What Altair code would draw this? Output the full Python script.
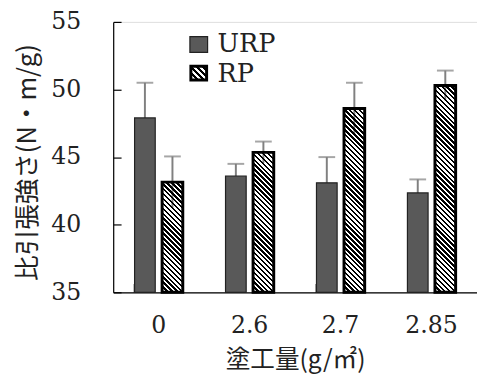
import altair as alt
import pandas as pd

categories = ["0", "2.6", "2.7", "2.85"]
series = ["URP", "RP"]
urp_values = [47.9, 43.6, 43.1, 42.35]
urp_errors = [2.6, 0.9, 1.9, 1.0]
rp_values = [43.15, 45.35, 48.6, 50.3]
rp_errors = [1.9, 0.8, 1.9, 1.1]
y_ticks = [35, 40, 45, 50, 55]

W, H = 370, 275
Y0, Y1 = 35, 55
SERIF = "DejaVu Serif"
CJK = "Noto Sans CJK JP"

rows = []
for c, v, e in zip(categories, urp_values, urp_errors):
    rows.append({"cat": c, "series": "URP", "value": v, "lo": v - e, "hi": v + e})
for c, v, e in zip(categories, rp_values, rp_errors):
    rows.append({"cat": c, "series": "RP", "value": v, "lo": v - e, "hi": v + e})
df = pd.DataFrame(rows)

x_scale = alt.Scale(domain=categories, paddingInner=0.47, paddingOuter=0.235)
xo_scale = alt.Scale(domain=series, paddingInner=0.25, paddingOuter=0)
y_scale = alt.Scale(domain=[Y0, Y1], nice=False, zero=False)

step = W / 4
bar_w = step * (1 - 0.47) * (1 - 0.25) / (2 - 0.25)


def hatch(w, h, period=5.0, duty=0.5):
    s = (w + h) / (w * w + h * h)
    total = w + h
    stops = []
    k = 0.0
    clear = "rgba(255,255,255,0)"
    while k < total:
        a = k / total
        b = min((k + period * duty) / total, 1)
        c = min((k + period) / total, 1)
        stops += [alt.GradientStop(offset=a, color="black"),
                  alt.GradientStop(offset=b, color="black"),
                  alt.GradientStop(offset=b, color=clear),
                  alt.GradientStop(offset=c, color=clear)]
        k += period
    return alt.Gradient(gradient="linear", stops=stops,
                        x1=0, y1=1, x2=s * w, y2=1 - s * h)


base = alt.Chart(df)
X = alt.X("cat:N", scale=x_scale, sort=categories,
          axis=alt.Axis(orient="bottom", title="塗工量(g/㎡)", ticks=False, tickSize=0,
                        labelPadding=34, labelBaseline="middle", labelAngle=0,
                        labelFont=SERIF, labelFontSize=24, labelColor="#222",
                        titleFont=CJK, titleFontSize=25, titleFontWeight="normal",
                        titleColor="#222", titleY=68, titleBaseline="middle",
                        domainColor="black", domainWidth=1.2))
XO = alt.XOffset("series:N", scale=xo_scale, sort=series)
Y = alt.Y("value:Q", scale=y_scale,
          axis=alt.Axis(orient="left", values=y_ticks, ticks=False, tickSize=0,
                        labelPadding=33, labelFont=SERIF, labelFontSize=24,
                        labelColor="#222", grid=False,
                        title="比引張強さ(N・m/g)", titleFont=CJK, titleFontSize=26,
                        titleFontWeight="normal", titleColor="#222",
                        titleX=-87, titleY=H / 2 + 5, titleAngle=-90,
                        titleAlign="center", titleBaseline="middle",
                        domainColor="black", domainWidth=1.2))

err = base.mark_rule(color="#808080", strokeWidth=2).encode(
    x=alt.X("cat:N", scale=x_scale, sort=categories, axis=None), xOffset=XO,
    y=alt.Y("lo:Q", scale=y_scale, axis=None), y2="hi:Q")
cap = base.mark_tick(color="#808080", thickness=2, size=17, orient="horizontal").encode(
    x=alt.X("cat:N", scale=x_scale, sort=categories, axis=None), xOffset=XO,
    y=alt.Y("hi:Q", scale=y_scale, axis=None))

urp = base.transform_filter(alt.datum.series == "URP").mark_bar(
    fill="#595959", stroke="#222", strokeWidth=1.2).encode(x=X, xOffset=XO, y=Y, y2=alt.datum(Y0))

rp_layers = []
for c, v in zip(categories, rp_values):
    h = (v - Y0) / (Y1 - Y0) * H
    rp_layers.append(
        base.transform_filter((alt.datum.series == "RP") & (alt.datum.cat == c)).mark_bar(
            fill=hatch(bar_w, h), stroke="black", strokeWidth=3).encode(
            x=alt.X("cat:N", scale=x_scale, sort=categories, axis=None), xOffset=XO,
            y=alt.Y("value:Q", scale=y_scale, axis=None), y2=alt.datum(Y0)))

# inward ticks
yticks = base.mark_point(opacity=0).encode(
    y=alt.Y("value:Q", scale=y_scale,
            axis=alt.Axis(orient="right", offset=-W, values=y_ticks, labels=False,
                          domain=False, grid=False, ticks=True, tickSize=8,
                          tickColor="black", tickWidth=1.2, title=None)),
    x=alt.value(0))
xticks = base.mark_point(opacity=0).encode(
    x=alt.X("cat:N", scale=x_scale, sort=categories,
            axis=alt.Axis(orient="top", offset=-H, labels=False, domain=False,
                          grid=False, ticks=True, tickSize=9, bandPosition=0,
                          tickColor="black", tickWidth=1.2, title=None)),
    y=alt.value(H))

leg = pd.DataFrame({"name": series})
leg_urp = alt.Chart(leg).transform_filter(alt.datum.name == "URP").mark_rect(
    fill="#595959", stroke="#222", strokeWidth=1.2).encode(
    x=alt.value(78), x2=alt.value(96), y=alt.value(15), y2=alt.value(31))
leg_rp = alt.Chart(leg).transform_filter(alt.datum.name == "RP").mark_rect(
    fill=hatch(16, 14, period=6), stroke="black", strokeWidth=3).encode(
    x=alt.value(79), x2=alt.value(95), y=alt.value(45), y2=alt.value(59))
leg_txt_urp = alt.Chart(leg).transform_filter(alt.datum.name == "URP").mark_text(
    align="left", baseline="middle", font=SERIF, fontSize=26, color="#222").encode(
    x=alt.value(106), y=alt.value(23), text="name:N")
leg_txt_rp = alt.Chart(leg).transform_filter(alt.datum.name == "RP").mark_text(
    align="left", baseline="middle", font=SERIF, fontSize=26, color="#222").encode(
    x=alt.value(106), y=alt.value(53), text="name:N")

chart = alt.layer(err, cap, urp, *rp_layers, yticks, xticks, leg_urp, leg_rp,
                  leg_txt_urp, leg_txt_rp).resolve_axis(
    x="independent", y="independent").properties(
    width=W, height=H,
    autosize=alt.AutoSizeParams(type="none"),
    padding={"left": 107, "top": 11, "right": 0, "bottom": 83},
).configure_view(stroke=None).configure(background="white")

chart.save("out.html", embed_options={"renderer": "svg", "actions": False})
